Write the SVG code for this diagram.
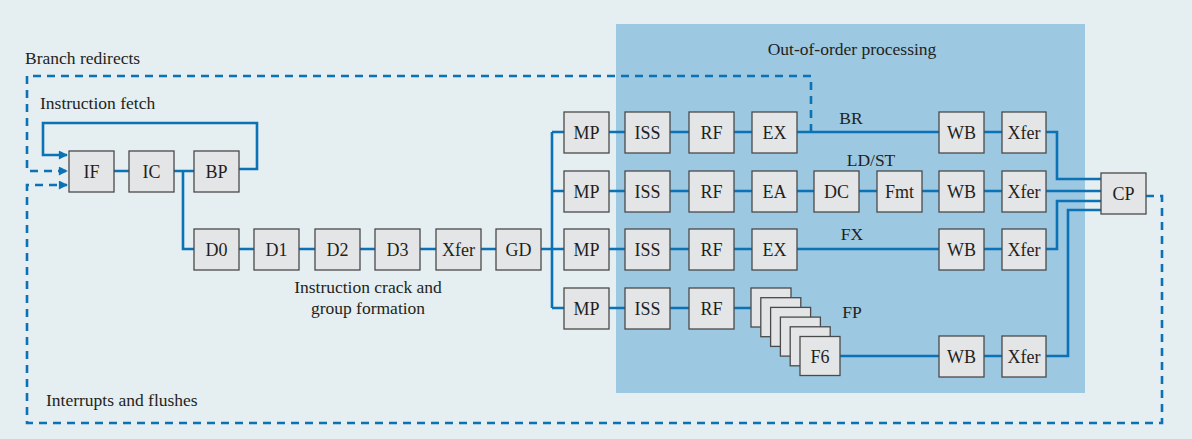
<svg xmlns="http://www.w3.org/2000/svg" width="1192" height="439" viewBox="0 0 1192 439">
<defs>
<style>
.bx{fill:#e4e5e7;stroke:#4a4a4a;stroke-width:1.3}
.t{font-family:'Liberation Serif','Times New Roman',Times,'DejaVu Serif',serif;font-size:18px;fill:#231f20;text-anchor:middle}
.lb{font-family:'Liberation Serif','Times New Roman',Times,'DejaVu Serif',serif;font-size:17.5px;fill:#231f20}
.ln{fill:none;stroke:#0a72b5;stroke-width:2.6}
.ds{fill:none;stroke:#0a72b5;stroke-width:2.6;stroke-dasharray:8 6}
</style>
<marker id="ah" viewBox="0 0 10 10" refX="9" refY="5" markerWidth="10" markerHeight="9" markerUnits="userSpaceOnUse" orient="auto">
<path d="M0,0 L10,5 L0,10 z" fill="#0a72b5"/>
</marker>
</defs>
<rect width="1192" height="439" fill="#e5eef0"/>
<rect x="616" y="24" width="469" height="369" fill="#9cc8e2"/>
<text class="lb" x="852" y="55" text-anchor="middle" font-size="18.5">Out-of-order processing</text>
<text class="lb" x="25" y="64">Branch redirects</text>
<text class="lb" x="40" y="109">Instruction fetch</text>
<text class="lb" x="46" y="406">Interrupts and flushes</text>
<text class="lb" x="368" y="293" text-anchor="middle">Instruction crack and</text>
<text class="lb" x="368" y="314" text-anchor="middle">group formation</text>
<text class="lb" x="851" y="124" text-anchor="middle">BR</text>
<text class="lb" x="871" y="166" text-anchor="middle">LD/ST</text>
<text class="lb" x="852" y="240" text-anchor="middle">FX</text>
<text class="lb" x="852" y="318" text-anchor="middle">FP</text>
<g id="connectors">
<path class="ln" d="M239,169 H257 V123 H43 V155 H67" marker-end="url(#ah)"/>
<path class="ds" d="M811,132 V76 H27 V171 H67" marker-end="url(#ah)"/>
<path class="ds" d="M1146,196 H1162 V423 H27 V185 H67" marker-end="url(#ah)"/>
<path class="ln" d="M114,171 H129 M174,171 H194 M183,171 V249 H194"/>
<path class="ln" d="M239,249 H540"/>
<path class="ln" d="M540,249 H552 M552,132 V308 M552,132 H564 M552,191 H564 M552,249 H564 M552,308 H564"/>
<path class="ln" d="M609,132 H1002 M1046,132 H1057 V179 H1101"/>
<path class="ln" d="M609,191 H1101"/>
<path class="ln" d="M609,249 H1002 M1046,249 H1057 V201 H1101"/>
<path class="ln" d="M609,308 H751 M839,356 H1002 M1046,356 H1068 V210 H1101"/>
</g>
<g id="IF"><rect class="bx" x="69" y="151" width="45" height="41"/><text class="t" x="91.5" y="178">IF</text></g>
<g id="IC"><rect class="bx" x="129" y="151" width="45" height="41"/><text class="t" x="151.5" y="178">IC</text></g>
<g id="BP"><rect class="bx" x="194" y="151" width="45" height="41"/><text class="t" x="216.5" y="178">BP</text></g>
<g id="D0"><rect class="bx" x="194" y="229" width="45" height="41"/><text class="t" x="216.5" y="256">D0</text></g>
<g id="D1"><rect class="bx" x="254" y="229" width="45" height="41"/><text class="t" x="276.5" y="256">D1</text></g>
<g id="D2"><rect class="bx" x="315" y="229" width="45" height="41"/><text class="t" x="337.5" y="256">D2</text></g>
<g id="D3"><rect class="bx" x="375" y="229" width="45" height="41"/><text class="t" x="397.5" y="256">D3</text></g>
<g id="Xfer0"><rect class="bx" x="436" y="229" width="45" height="41"/><text class="t" x="458.5" y="256">Xfer</text></g>
<g id="GD"><rect class="bx" x="496" y="229" width="45" height="41"/><text class="t" x="518.5" y="256">GD</text></g>
<g id="MP1"><rect class="bx" x="564" y="112" width="45" height="41"/><text class="t" x="586.5" y="139">MP</text></g>
<g id="ISS1"><rect class="bx" x="625" y="112" width="45" height="41"/><text class="t" x="647.5" y="139">ISS</text></g>
<g id="RF1"><rect class="bx" x="689" y="112" width="45" height="41"/><text class="t" x="711.5" y="139">RF</text></g>
<g id="EX1"><rect class="bx" x="752" y="112" width="45" height="41"/><text class="t" x="774.5" y="139">EX</text></g>
<g id="WB1"><rect class="bx" x="939" y="112" width="45" height="41"/><text class="t" x="961.5" y="139">WB</text></g>
<g id="Xfer1"><rect class="bx" x="1002" y="112" width="44" height="41"/><text class="t" x="1024" y="139">Xfer</text></g>
<g id="MP2"><rect class="bx" x="564" y="171" width="45" height="41"/><text class="t" x="586.5" y="198">MP</text></g>
<g id="ISS2"><rect class="bx" x="625" y="171" width="45" height="41"/><text class="t" x="647.5" y="198">ISS</text></g>
<g id="RF2"><rect class="bx" x="689" y="171" width="45" height="41"/><text class="t" x="711.5" y="198">RF</text></g>
<g id="EA2"><rect class="bx" x="752" y="171" width="45" height="41"/><text class="t" x="774.5" y="198">EA</text></g>
<g id="DC2"><rect class="bx" x="814" y="171" width="45" height="41"/><text class="t" x="836.5" y="198">DC</text></g>
<g id="Fmt2"><rect class="bx" x="877" y="171" width="45" height="41"/><text class="t" x="899.5" y="198">Fmt</text></g>
<g id="WB2"><rect class="bx" x="939" y="171" width="45" height="41"/><text class="t" x="961.5" y="198">WB</text></g>
<g id="Xfer2"><rect class="bx" x="1002" y="171" width="44" height="41"/><text class="t" x="1024" y="198">Xfer</text></g>
<g id="MP3"><rect class="bx" x="564" y="229" width="45" height="41"/><text class="t" x="586.5" y="256">MP</text></g>
<g id="ISS3"><rect class="bx" x="625" y="229" width="45" height="41"/><text class="t" x="647.5" y="256">ISS</text></g>
<g id="RF3"><rect class="bx" x="689" y="229" width="45" height="41"/><text class="t" x="711.5" y="256">RF</text></g>
<g id="EX3"><rect class="bx" x="752" y="229" width="45" height="41"/><text class="t" x="774.5" y="256">EX</text></g>
<g id="WB3"><rect class="bx" x="939" y="229" width="45" height="41"/><text class="t" x="961.5" y="256">WB</text></g>
<g id="Xfer3"><rect class="bx" x="1002" y="229" width="44" height="41"/><text class="t" x="1024" y="256">Xfer</text></g>
<g id="MP4"><rect class="bx" x="564" y="288" width="45" height="41"/><text class="t" x="586.5" y="315">MP</text></g>
<g id="ISS4"><rect class="bx" x="625" y="288" width="45" height="41"/><text class="t" x="647.5" y="315">ISS</text></g>
<g id="RF4"><rect class="bx" x="689" y="288" width="45" height="41"/><text class="t" x="711.5" y="315">RF</text></g>
<g id="F1-F6">
<rect class="bx" x="751" y="288" width="40" height="39"/>
<rect class="bx" x="760.8" y="297.7" width="40" height="39"/>
<rect class="bx" x="770.6" y="307.4" width="40" height="39"/>
<rect class="bx" x="780.4" y="317.1" width="40" height="39"/>
<rect class="bx" x="790.2" y="326.8" width="40" height="39"/>
<rect class="bx" x="800" y="336.5" width="40" height="39"/>
<text class="t" x="820" y="363">F6</text>
</g>
<g id="WB4"><rect class="bx" x="939" y="336" width="45" height="41"/><text class="t" x="961.5" y="363">WB</text></g>
<g id="Xfer4"><rect class="bx" x="1002" y="336" width="44" height="41"/><text class="t" x="1024" y="363">Xfer</text></g>
<g id="CP"><rect class="bx" x="1101" y="173" width="45" height="41"/><text class="t" x="1123.5" y="200">CP</text></g>
</svg>
